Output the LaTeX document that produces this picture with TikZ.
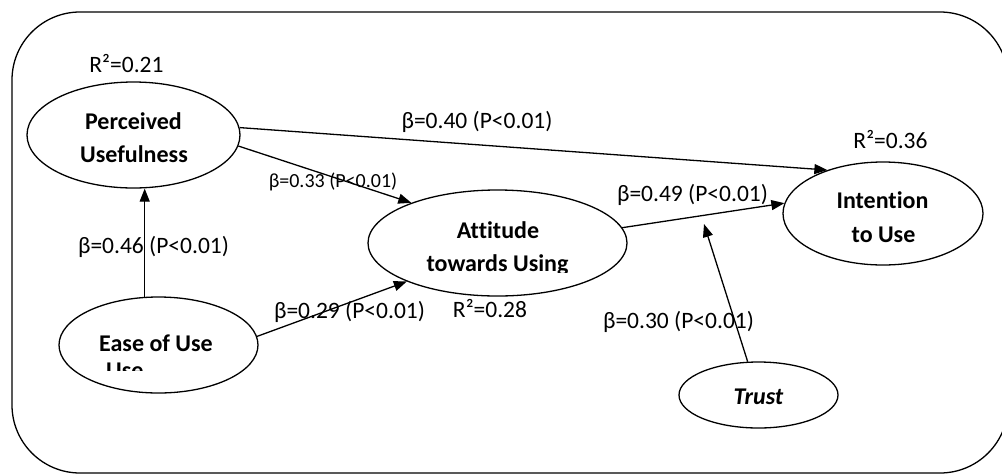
\documentclass[tikz,border=0pt]{standalone}
\usepackage{fontspec}
\setmainfont{Carlito}[Ligatures=NoCommon]
\usetikzlibrary{shapes.geometric,arrows.meta}
\begin{document}
\begin{tikzpicture}[x=1pt,y=-1pt,
  ell/.style={draw, ellipse, line width=1.3pt, inner sep=0pt},
  lbl/.style={font=\fontsize{23.5}{28}\selectfont, inner sep=0pt, anchor=base},
  small/.style={font=\fontsize{20}{24}\selectfont, inner sep=0pt, anchor=base},
  ttl/.style={font=\fontsize{24}{30}\selectfont\bfseries, inner sep=0pt, anchor=base},
  arr/.style={line width=1.3pt, -{Triangle[length=13pt,width=10pt]}},
]
\useasboundingbox (0,0) rectangle (1002,475);
\clip (0,0) rectangle (1002,475);
\draw[line width=1.3pt, rounded corners=68pt] (12,12) rectangle (1008,473);

% ellipses
\node[ell, minimum width=213pt, minimum height=106pt] (PU) at (133.5,135) {};
\node[ell, minimum width=199pt, minimum height=96pt] (EoU) at (158.5,345) {};
\node[ell, minimum width=259pt, minimum height=106pt] (Att) at (497.5,243) {};
\node[ell, minimum width=200pt, minimum height=103pt] (IU) at (883,213.5) {};
\node[ell, minimum width=159pt, minimum height=66pt] (Tr) at (758.5,395) {};

% titles
\node[ttl] (tPU1) at (133.5,129) {Perceived};
\node[ttl] (tPU2) at (134,162.5) {Usefulness};
\node[ttl] (tEoU) at (156,351) {Ease of Use};
\begin{scope}
  \clip (0,300) rectangle (300,370);
  \node[ttl, anchor=base west] (tEoU2) at (106,378.5) {Use};
\end{scope}
\node[ttl] (tAtt1) at (498,238) {Attitude};
\begin{scope}
  \clip (300,200) rectangle (700,272);
  \node[ttl] (tAtt2) at (497.5,271) {towards Using};
\end{scope}
\node[ttl] (tIU1) at (882.5,208) {Intention};
\node[ttl] (tIU2) at (883.5,242) {to Use};
\node[ttl] (tTr) at (758.5,404) {\itshape Trust};

% labels
\node[lbl] (r1) at (126.5,72) {R²=0.21};
\node[lbl] (r2) at (890.5,148) {R²=0.36};
\node[lbl] (r3) at (490,317) {R²=0.28};
\node[lbl] (b40) at (477,128) {β=0.40 (P<0.01)};
\node[small] (b33) at (333,187) {β=0.33 (P<0.01)};
\node[lbl] (b49) at (692.5,201) {β=0.49 (P<0.01)};
\node[lbl] (b46) at (153.5,253) {β=0.46 (P<0.01)};
\node[lbl] (b29) at (349.5,318) {β=0.29 (P<0.01)};
\node[lbl] (b30) at (678.5,328) {β=0.30 (P<0.01)};

% connectors
\coordinate (mod) at (704,224);
\draw[arr] (PU.4) -- (IU.142);
\draw[arr] (PU.-6) -- (Att.155);
\draw[arr] (EoU.106) -- (PU.south -| EoU.106);
\draw[arr] (EoU.5) -- (Att.203);
\draw[arr] (Att.7) -- (IU.174);
\draw[arr] (Tr.108) -- (mod);
\end{tikzpicture}
\end{document}
